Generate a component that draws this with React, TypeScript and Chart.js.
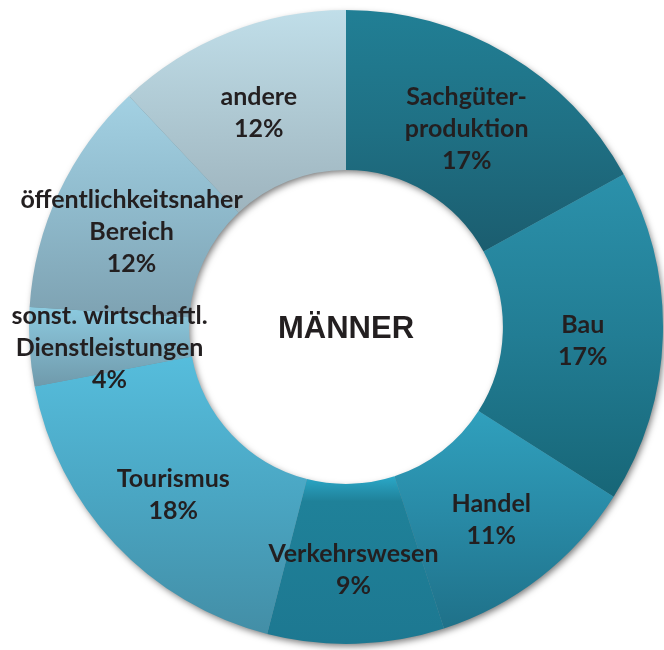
import React, { useEffect, useRef } from "react";
import { Chart, registerables } from "chart.js";

Chart.register(...registerables);

const categories: string[][] = [
  ["Sachgüter-", "produktion"],
  ["Bau"],
  ["Handel"],
  ["Verkehrswesen"],
  ["Tourismus"],
  ["sonst. wirtschaftl.", "Dienstleistungen"],
  ["öffentlichkeitsnaher", "Bereich"],
  ["andere"],
];
const values = [17, 17, 11, 9, 18, 4, 12, 12];
const percentLabels = ["17%", "17%", "11%", "9%", "18%", "4%", "12%", "12%"];
const centerTitle = "MÄNNER";

const topColors = ["#217f95", "#2b91ab", "#30a0bd", "#2ba8c8", "#56bddc", "#8ccbe0", "#a3d1e3", "#c0dee9"];
const midColors = ["#1f7084", "#227d94", "#2889a5", "#1f8199", "#4aa6c3", "#7fb2c6", "#8fbacc", "#afc9d3"];
const bottomColors = ["#1b5d6f", "#176677", "#1f7189", "#1d7891", "#438ea6", "#6f9aab", "#7ea2b2", "#9eb4be"];

const CUTOUT = 0.495;

function segmentExtent(chart: any, index: number) {
  const area = chart.chartArea;
  const cx = (area.left + area.right) / 2;
  const cy = (area.top + area.bottom) / 2;
  const R = Math.min(area.right - area.left, area.bottom - area.top) / 2;
  const r = R * CUTOUT;
  const total = values.reduce((a, b) => a + b, 0);
  let before = 0;
  for (let k = 0; k < index; k++) before += values[k];
  const a0 = (before / total) * Math.PI * 2;
  const a1 = ((before + values[index]) / total) * Math.PI * 2;
  const angles = [a0, a1];
  for (let m = 0; m <= 2; m++) {
    const a = m * Math.PI;
    if (a > a0 && a < a1) angles.push(a);
  }
  let yMin = Infinity;
  let yMax = -Infinity;
  for (const a of angles) {
    for (const rad of [r, R]) {
      const y = cy - rad * Math.cos(a);
      yMin = Math.min(yMin, y);
      yMax = Math.max(yMax, y);
    }
  }
  return { yMin, yMax };
}

function gradientFor(context: any) {
  const chart = context.chart;
  const i = context.dataIndex;
  if (!chart.chartArea) return topColors[i];
  const { yMin, yMax } = segmentExtent(chart, i);
  const g = chart.ctx.createLinearGradient(0, yMin, 0, yMax);
  g.addColorStop(0, topColors[i]);
  g.addColorStop(i === 3 ? 0.15 : 0.5, midColors[i]);
  g.addColorStop(1, bottomColors[i]);
  return g;
}

const shadowPlugin = {
  id: "ringShadow",
  beforeDatasetsDraw(chart: any) {
    const meta = chart.getDatasetMeta(0);
    const arc = meta.data[0];
    if (!arc) return;
    const { x, y, outerRadius, innerRadius } = arc.getProps(["x", "y", "outerRadius", "innerRadius"], true);
    const ctx = chart.ctx;
    ctx.save();
    ctx.shadowColor = "rgba(0,0,0,0.55)";
    ctx.shadowBlur = 7;
    ctx.shadowOffsetX = 2;
    ctx.shadowOffsetY = 3;
    ctx.fillStyle = "#6a8f9c";
    ctx.beginPath();
    ctx.arc(x, y, outerRadius - 1, 0, Math.PI * 2);
    ctx.arc(x, y, innerRadius + 1, 0, Math.PI * 2, true);
    ctx.closePath();
    ctx.fill();
    ctx.restore();
  },
};

const labelPlugin = {
  id: "segmentLabels",
  afterDatasetsDraw(chart: any) {
    const meta = chart.getDatasetMeta(0);
    const ctx = chart.ctx;
    ctx.save();
    ctx.fillStyle = "#231f20";
    ctx.textAlign = "center";
    ctx.textBaseline = "middle";
    ctx.font = "bold 25px Lato";
    const lineH = 32;
    meta.data.forEach((arc: any, i: number) => {
      const pos = arc.tooltipPosition(true);
      const lines = [...categories[i], percentLabels[i]];
      const startY = pos.y + 6 - ((lines.length - 1) * lineH) / 2;
      lines.forEach((t, k) => ctx.fillText(t, pos.x, startY + k * lineH));
    });
    const a0 = meta.data[0];
    if (a0) {
      ctx.font = "bold 31px 'Liberation Sans', Arial, sans-serif";
      ctx.fillStyle = "#231f20";
      ctx.fillText(centerTitle, a0.x, a0.y + 2);
    }
    ctx.restore();
  },
};

export default function App() {
  const ref = useRef<HTMLCanvasElement | null>(null);
  useEffect(() => {
    document.body.style.margin = "0";
    document.body.style.overflow = "hidden";
    const canvas = ref.current;
    if (!canvas) return;
    const chart = new Chart(canvas, {
      type: "doughnut",
      data: {
        labels: categories.map((c) => c.join(" ")),
        datasets: [
          {
            data: values,
            backgroundColor: gradientFor,
            borderWidth: 0,
            hoverOffset: 0,
          },
        ],
      },
      options: {
        responsive: false,
        animation: false,
        cutout: CUTOUT * 100 + "%",
        layout: { padding: { left: 29, right: 1, top: 10, bottom: 6 } },
        plugins: {
          legend: { display: false },
          tooltip: { enabled: false },
        },
        events: [],
      },
      plugins: [shadowPlugin, labelPlugin],
    });
    return () => chart.destroy();
  }, []);
  return (
    <div style={{ position: "relative", width: 664, height: 650 }}>
      <canvas ref={ref} width={664} height={650} style={{ width: 664, height: 650, display: "block" }} />
    </div>
  );
}
